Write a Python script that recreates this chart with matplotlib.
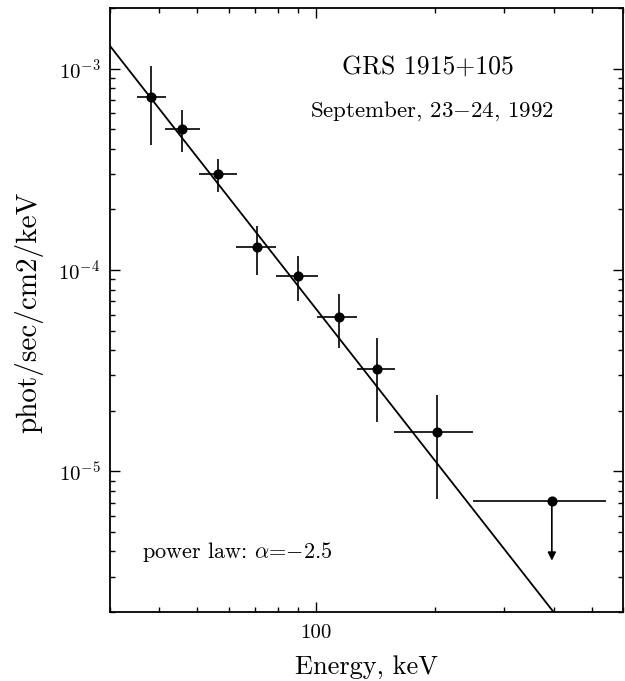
"""
GRS 1915+105 hard X-ray spectrum, September 23-24, 1992
"""

import matplotlib.pyplot as plt
import numpy as np
from matplotlib.ticker import LogLocator, NullFormatter, FuncFormatter

plt.rcParams['font.family'] = 'cmr10'
plt.rcParams['mathtext.fontset'] = 'cm'
plt.rcParams['axes.formatter.use_mathtext'] = True
plt.rcParams['axes.unicode_minus'] = False

# data points (energy in keV, flux in phot/sec/cm2/keV)
energy = [38.2, 45.8, 56.5, 70.9, 90.0, 114.4, 142.7, 202.5]
e_lo = [35.2, 41.4, 50.3, 62.7, 79.2, 100.6, 127.0, 157.8]
e_hi = [41.7, 50.6, 63.1, 79.2, 101.0, 127.0, 158.5, 249.6]
flux = [7.26e-4, 5.0e-4, 2.99e-4, 1.30e-4, 9.37e-5, 5.82e-5, 3.21e-5, 1.56e-5]
flux_lo = [4.2e-4, 3.85e-4, 2.44e-4, 9.5e-5, 6.98e-5, 4.12e-5, 1.76e-5, 7.28e-6]
flux_hi = [1.03e-3, 6.23e-4, 3.56e-4, 1.65e-4, 1.18e-4, 7.57e-5, 4.62e-5, 2.39e-5]

# upper limit point
ul_energy = 396.0
ul_e_lo = 250.0
ul_e_hi = 542.0
ul_flux = 7.11e-6
ul_arrow_end = 3.6e-6

# power law fit: F = K * (E/100)^alpha
alpha = -2.5
K100 = 6.4e-5

energy = np.array(energy)
flux = np.array(flux)
xerr = [energy - np.array(e_lo), np.array(e_hi) - energy]
yerr = [flux - np.array(flux_lo), np.array(flux_hi) - flux]

fig = plt.figure(figsize=(6.25, 6.81), dpi=100)
ax = fig.add_axes([0.176, 0.1013, 0.8208, 0.8867])

# fit line
e_fit = np.array([30.0, 600.0])
ax.plot(e_fit, K100 * (e_fit / 100.0) ** alpha, 'k-', linewidth=1.3)

# measured points
ax.errorbar(energy, flux, xerr=xerr, yerr=yerr, fmt='o', color='k',
            markersize=6.3, elinewidth=1.2, capsize=0)

# upper limit
ax.errorbar([ul_energy], [ul_flux],
            xerr=[[ul_energy - ul_e_lo], [ul_e_hi - ul_energy]],
            fmt='o', color='k', markersize=6.3, elinewidth=1.2, capsize=0)
ax.annotate('', xy=(ul_energy, ul_arrow_end), xytext=(ul_energy, ul_flux),
            arrowprops=dict(arrowstyle='-|>', color='k', lw=1.2,
                            mutation_scale=12, shrinkA=0, shrinkB=0))

ax.set_xscale('log')
ax.set_yscale('log')
ax.set_xlim(30, 600)
ax.set_ylim(2.0e-6, 2.0e-3)

ax.xaxis.set_major_locator(LogLocator(base=10, subs=(1.0,)))
ax.xaxis.set_minor_locator(LogLocator(base=10, subs=np.arange(2, 10)))
ax.xaxis.set_major_formatter(FuncFormatter(lambda v, p: f'{v:g}'))
ax.xaxis.set_minor_formatter(NullFormatter())
ax.yaxis.set_minor_formatter(NullFormatter())
ax.tick_params(which='both', direction='in', top=True, right=True,
               labelsize=15, width=1.0)
ax.tick_params(which='major', length=7.2)
ax.tick_params(axis='y', which='major', pad=7)
ax.tick_params(axis='x', which='major', pad=9)
ax.tick_params(which='minor', length=3.6)
for s in ax.spines.values():
    s.set_linewidth(1.3)

ax.set_xlabel('Energy, keV', fontsize=19)
ax.set_ylabel('phot/sec/cm2/keV', fontsize=21)
ax.xaxis.set_label_coords(0.5, -0.071)
ax.yaxis.set_label_coords(-0.130, 0.497)

ax.text(0.62, 0.892, 'GRS 1915+105', transform=ax.transAxes,
        ha='center', va='baseline', fontsize=18.5)
ax.text(0.628, 0.821, 'September, $23{-}24$, 1992', transform=ax.transAxes,
        ha='center', va='baseline', fontsize=16.5)
ax.text(0.062, 0.089, r'power law: $\alpha$=$-$2.5', transform=ax.transAxes,
        ha='left', va='baseline', fontsize=16)

plt.savefig('out.png', dpi=100)
